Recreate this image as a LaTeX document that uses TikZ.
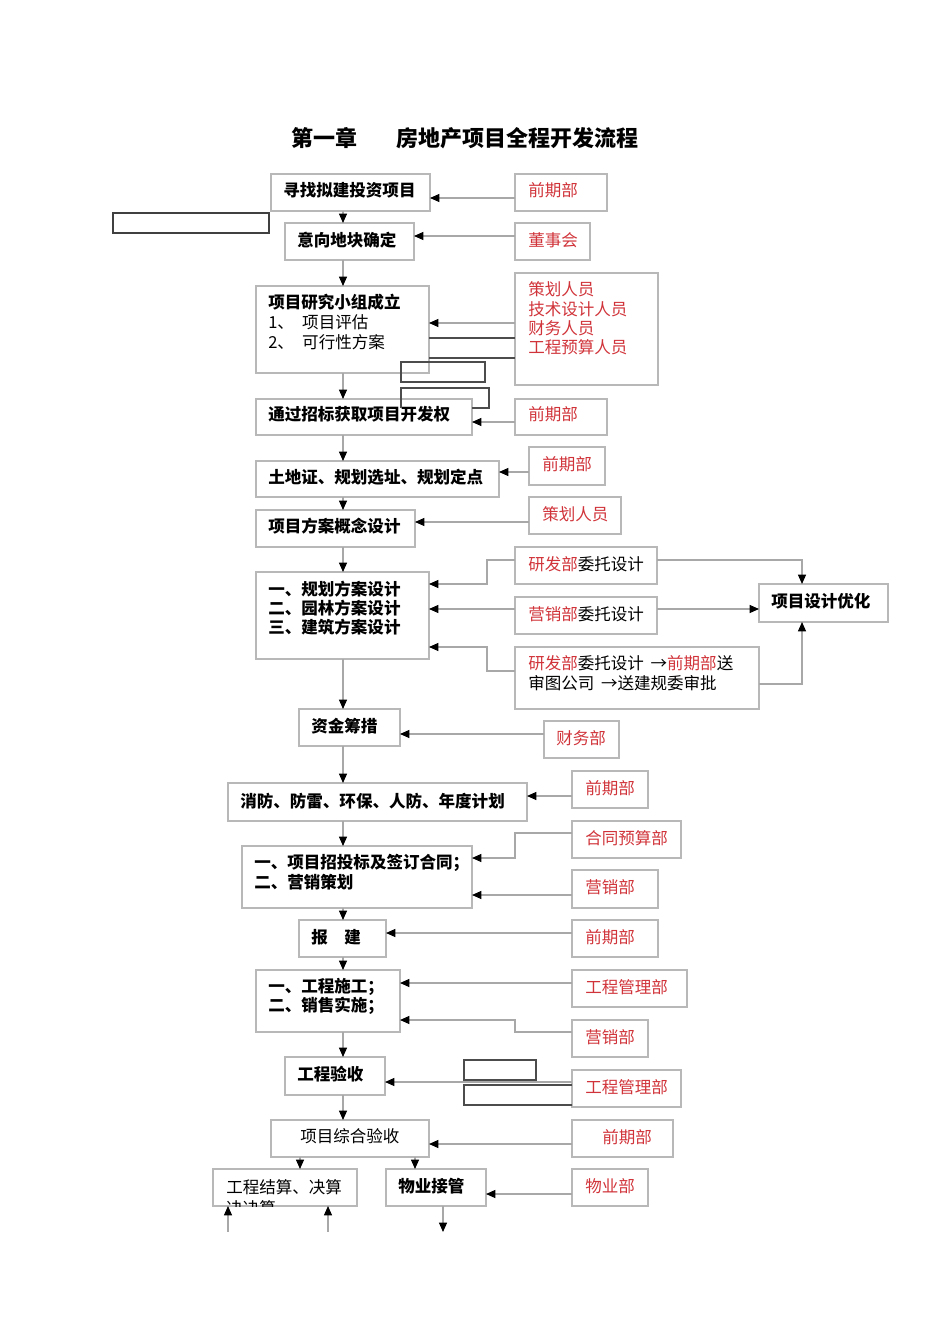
\documentclass[tikz,border=0pt]{standalone}
\usepackage{fontspec}
\setmainfont{Noto Sans CJK SC}
\usetikzlibrary{arrows.meta}
\definecolor{rd}{HTML}{D0343A}
\definecolor{ln}{HTML}{A8A8A8}
\definecolor{bd}{HTML}{B8B8B8}
\newcommand\bx[6][bd]{\node[draw=#1,line width=0.8pt,inner sep=0,outer sep=0,minimum width={(#5-#3)*0.75pt},minimum height={(#6-#4)*0.75pt}] (#2) at ({(#3+#5)/2},{(#4+#6)/2}) {};}
\newcommand\tx[3]{\node[txt] at (#1,#2) {#3};}
\newcommand\arr[3]{\draw[ar] (#1.west |- 0,#3) -- (#2.east |- 0,#3);}
\begin{document}
\begin{tikzpicture}[x=0.75pt,y=-0.75pt,
  txt/.style={anchor=west,inner sep=0,font=\fontsize{12.4}{14}\selectfont},
  bt/.style={txt,font=\fontsize{12.4}{14}\selectfont\bfseries},
  ar/.style={draw=ln,line width=0.8pt,-{Triangle[length=7pt,width=6pt,fill=black,color=black]}},
  dk/.style={draw=black!70,line width=0.8pt}]
\useasboundingbox (0,0) rectangle (950,1344);
\node[font=\fontsize{16.5}{18}\selectfont\bfseries] (title) at (465,138) {第一章\hspace{1.8em}房地产项目全程开发流程};
% main boxes
\bx{B1}{271}{174}{430}{211}\node[bt] at (283,190) {寻找拟建投资项目};
\bx[black!75]{L1}{113}{213}{269}{233}
\bx{B2}{285}{223}{414}{260}\node[bt] at (297,240) {意向地块确定};
\bx{B3}{256}{286}{429}{373}\node[bt] at (268,302) {项目研究小组成立};
\tx{268}{322}{1、\hspace{0.5em}项目评估}\tx{268}{342}{2、\hspace{0.5em}可行性方案}
\bx{B4}{256}{399}{472}{435}\node[bt] at (268,414) {通过招标获取项目开发权};
\bx{B5}{256}{461}{499}{497}\node[bt] at (268,477) {土地证、规划选址、规划定点};
\bx{B6}{256}{510}{415}{547}\node[bt] at (268,526) {项目方案概念设计};
\bx{B7}{256}{572}{429}{659}\node[bt] at (268,589) {一、规划方案设计};
\node[bt] at (268,608) {二、园林方案设计};\node[bt] at (268,627) {三、建筑方案设计};
\bx{B8}{299}{709}{400}{746}\node[bt] at (311,726) {资金筹措};
\bx{B9}{228}{783}{527}{821}\node[bt] at (240,801) {消防、防雷、环保、人防、年度计划};
\bx{B10}{242}{846}{472}{908}\node[bt] at (254,863) {一、项目招投标及签订合同；};\node[bt] at (254,882) {二、营销策划};
\bx{B11}{299}{920}{386}{957}\node[bt] at (311,937) {报\hspace{1em}建};
\bx{B12}{256}{970}{400}{1032}\node[bt] at (268,987) {一、工程施工；};\node[bt] at (268,1006) {二、销售实施；};
\bx{B13}{285}{1057}{385}{1095}\node[bt] at (297,1074) {工程验收};
\bx{B14}{271}{1120}{429}{1157}\node[txt] at (300,1136) {项目综合验收};
\bx{B15}{213}{1169}{357}{1206}\node[txt] at (226,1187) {工程结算、决算};
\begin{scope}\clip (213,1169) rectangle (357,1206);\node[txt] at (226,1208) {决决算};\end{scope}
\bx{B16}{386}{1169}{486}{1206}\node[bt] at (398,1186) {物业接管};
% right boxes
\bx{R1}{515}{174}{607}{211}\node[txt,rd] at (528,190) {前期部};
\bx{R2}{515}{223}{590}{260}\node[txt,rd] at (528,240) {董事会};
\bx{R3}{515}{273}{658}{385}\node[txt,rd] at (528,289) {策划人员};\node[txt,rd] at (528,309) {技术设计人员};\node[txt,rd] at (528,328) {财务人员};\node[txt,rd] at (528,347) {工程预算人员};
\bx{R4}{515}{399}{607}{435}\node[txt,rd] at (528,414) {前期部};
\bx{R5}{529}{447}{605}{485}\node[txt,rd] at (542,464) {前期部};
\bx{R6}{529}{497}{621}{534}\node[txt,rd] at (542,514) {策划人员};
\bx{R7a}{515}{547}{657}{584}\node[txt] at (528,564) {\textcolor{rd}{研发部}委托设计};
\bx{R7b}{515}{597}{657}{634}\node[txt] at (528,614) {\textcolor{rd}{营销部}委托设计};
\bx{R7c}{515}{647}{759}{709}\node[txt] at (528,663) {\textcolor{rd}{研发部}委托设计\hspace{0.4em}→\textcolor{rd}{前期部}送};\node[txt] at (528,683) {审图公司\hspace{0.4em}→送建规委审批};
\bx{Y}{759}{584}{888}{622}\node[bt] at (771,601) {项目设计优化};
\bx{R8}{544}{721}{619}{758}\node[txt,rd] at (556,738) {财务部};
\bx{R9}{572}{771}{648}{808}\node[txt,rd] at (585,788) {前期部};
\bx{R10a}{572}{821}{681}{858}\node[txt,rd] at (585,838) {合同预算部};
\bx{R10b}{572}{870}{658}{908}\node[txt,rd] at (585,887) {营销部};
\bx{R11}{572}{920}{658}{957}\node[txt,rd] at (585,937) {前期部};
\bx{R12a}{572}{970}{687}{1007}\node[txt,rd] at (585,987) {工程管理部};
\bx{R12b}{572}{1020}{648}{1057}\node[txt,rd] at (585,1037) {营销部};
\bx{R13}{572}{1070}{681}{1107}\node[txt,rd] at (585,1087) {工程管理部};
\bx{R14}{572}{1120}{673}{1157}\node[txt,rd] at (602,1137) {前期部};
\bx{R15}{572}{1169}{648}{1206}\node[txt,rd] at (585,1186) {物业部};
% dark stray shapes
\draw[dk] (B3.east |- 0,338) -- (R3.west |- 0,338);
\draw[dk] (B3.east |- 0,358) -- (R3.west |- 0,358);
\draw[dk] (401,362) rectangle (485,382);
\draw[dk] (401,408) -- (401,388) -- (489,388) -- (489,408) -- (472,408);
\draw[dk] (464,1060) rectangle (536,1080);
\draw[dk] (R13.west |- 0,1085) -- (464,1085) -- (464,1105) -- (R13.west |- 0,1105);
% main flow
\draw[ar] (B1.south -| 343,0) -- (B2.north -| 343,0);
\draw[ar] (B2.south -| 343,0) -- (B3.north -| 343,0);
\draw[ar] (B3.south -| 343,0) -- (B4.north -| 343,0);
\draw[ar] (B4.south -| 343,0) -- (B5.north -| 343,0);
\draw[ar] (B5.south -| 343,0) -- (B6.north -| 343,0);
\draw[ar] (B6.south -| 343,0) -- (B7.north -| 343,0);
\draw[ar] (B7.south -| 343,0) -- (B8.north -| 343,0);
\draw[ar] (B8.south -| 343,0) -- (B9.north -| 343,0);
\draw[ar] (B9.south -| 343,0) -- (B10.north -| 343,0);
\draw[ar] (B10.south -| 343,0) -- (B11.north -| 343,0);
\draw[ar] (B11.south -| 343,0) -- (B12.north -| 343,0);
\draw[ar] (B12.south -| 343,0) -- (B13.north -| 343,0);
\draw[ar] (B13.south -| 343,0) -- (B14.north -| 343,0);
\draw[ar] (B14.south -| 300,0) -- (B15.north -| 300,0);
\draw[ar] (B14.south -| 415,0) -- (B16.north -| 415,0);
\coordinate (e1) at (228,1232);\coordinate (e2) at (328,1232);\coordinate (e3) at (443,1232);
\draw[ar] (e1) -- (B15.south -| e1);
\draw[ar] (e2) -- (B15.south -| e2);
\draw[ar] (B16.south -| e3) -- (e3);
% side arrows
\arr{R1}{B1}{198}\arr{R2}{B2}{236}\arr{R3}{B3}{323}\arr{R4}{B4}{422}
\arr{R5}{B5}{472}\arr{R6}{B6}{522}\arr{R7b}{B7}{609}\arr{R8}{B8}{734}
\arr{R9}{B9}{796}\arr{R10b}{B10}{895}\arr{R11}{B11}{933}\arr{R12a}{B12}{983}
\arr{R13}{B13}{1082}\arr{R14}{B14}{1144}\arr{R15}{B16}{1194}
\draw[ar] (R7a.west |- 0,560) -- (487,560) -- (487,584) -- (B7.east |- 0,584);
\draw[ar] (R7c.west |- 0,671) -- (487,671) -- (487,647) -- (B7.east |- 0,647);
\draw[ar] (R10a.west |- 0,833) -- (515,833) -- (515,858) -- (B10.east |- 0,858);
\draw[ar] (R12b.west |- 0,1032) -- (515,1032) -- (515,1020) -- (B12.east |- 0,1020);
\draw[ar] (R7a.east |- 0,560) -- (802,560) -- (Y.north -| 802,0);
\draw[ar] (R7b.east |- 0,609) -- (Y.west |- 0,609);
\draw[ar] (R7c.east |- 0,684) -- (802,684) -- (Y.south -| 802,0);
\end{tikzpicture}
\end{document}
